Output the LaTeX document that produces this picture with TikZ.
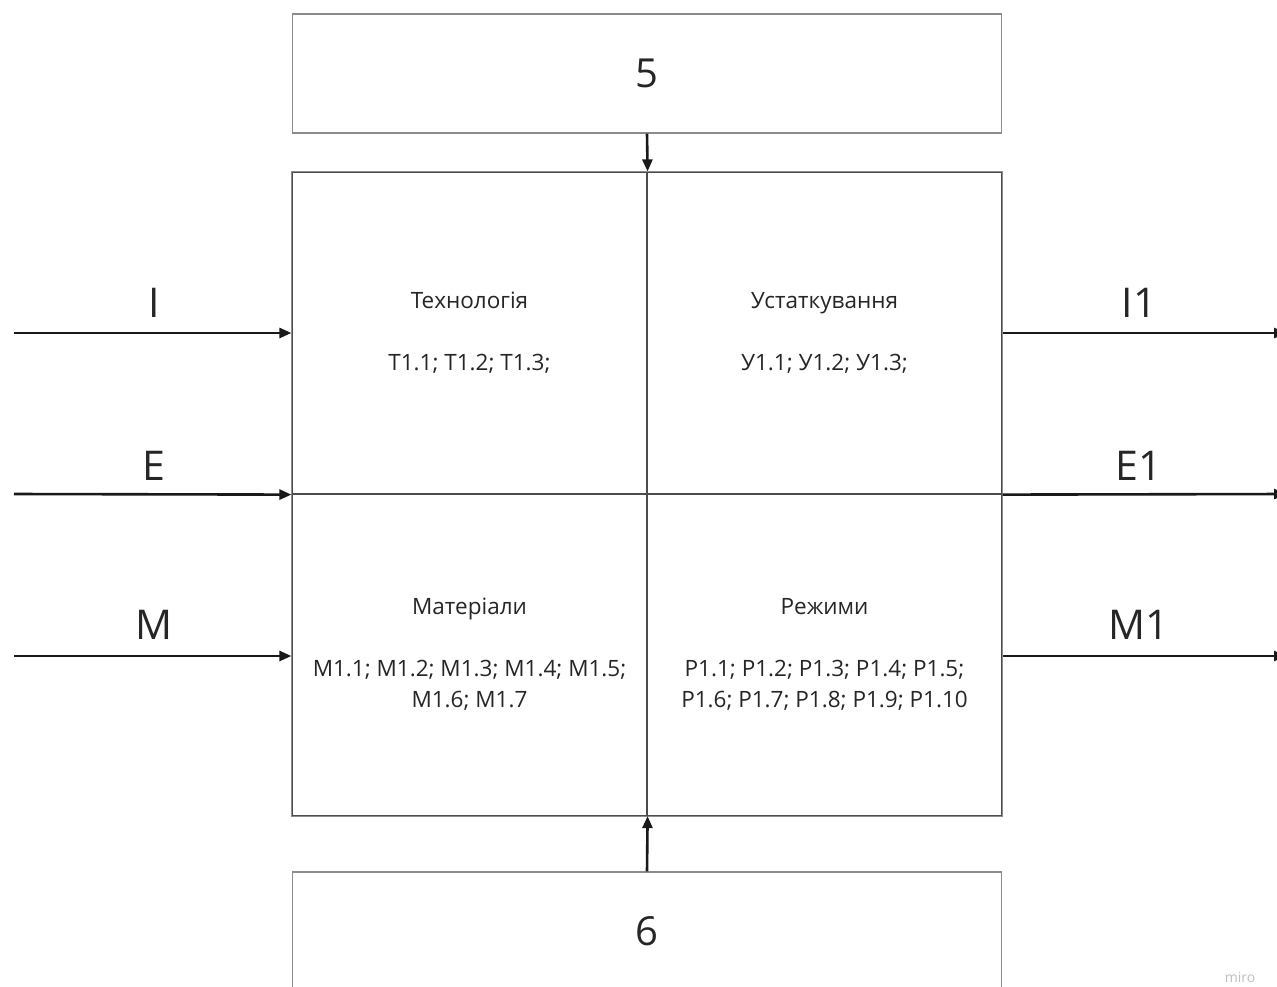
\documentclass[tikz,border=0pt]{standalone}
\usepackage{fontspec}
\setmainfont{Open Sans}
\usetikzlibrary{arrows.meta}
\tikzset{
  x=1pt, y=-1pt,
  box/.style={draw=black!45, line width=1.2pt, fill=white, minimum width=709pt, minimum height=119pt, inner sep=0pt, font=\fontsize{40}{48}\selectfont, text=black!85},
  quad/.style={draw=black!70, line width=1.2pt, minimum width=355pt, minimum height=322pt, inner sep=0pt, align=center, font=\fontsize{22.5}{31}\selectfont, text=black!85},
  flow/.style={line width=2.6pt, draw=black!90, -{Triangle[length=12pt,width=10pt]}},
  lbl/.style={font=\fontsize{41}{48}\selectfont, text=black!85, inner sep=0pt},
}
\begin{document}
\begin{tikzpicture}
\clip (0,0) rectangle (1277,986);
\fill[white] (0,0) rectangle (1277,986);
% boxes
\node[box] (b5) at (647,73.5) {5};
\node[box] (b6) at (647,931.5) {6};
\node[quad] (q1) at (469.5,333) {Технологія\\[31pt]T1.1; T1.2; T1.3;};
\node[quad] (q2) at (824.5,333) {Устаткування\\[31pt]У1.1; У1.2; У1.3;};
\node[quad] (q3) at (469.5,654.5) {Матеріали\\[31pt]M1.1; M1.2; M1.3; M1.4; M1.5;\\M1.6; M1.7};
\node[quad] (q4) at (824.5,654.5) {Режими\\[31pt]P1.1; P1.2; P1.3; P1.4; P1.5;\\P1.6; P1.7; P1.8; P1.9; P1.10};
\draw[draw=black!45, line width=1.2pt] (q1.north west) rectangle (q4.south east);
% vertical arrows
\draw[flow] (b5.south) -- (q1.north east);
\draw[flow] (b6.north) -- (q3.south east);
% input / output ends
\coordinate (iI) at (14,333);
\coordinate (iE) at (14,494);
\coordinate (iM) at (14,656);
\coordinate (oI) at (1286,333);
\coordinate (oE) at (1286,494);
\coordinate (oM) at (1286,656);
\draw[flow] (iI) -- (q1.west);
\draw[flow] (iE) -- (q1.south west);
\draw[flow] (iM) -- (q3.west |- iM);
\draw[flow] (q2.east) -- (oI);
\draw[flow] (q2.south east) -- (oE);
\draw[flow] (q4.east |- oM) -- (oM);
% labels
\node[lbl] (lI) at (154,303) {I};
\node[lbl] (lE) at (154,466) {E};
\node[lbl] (lM) at (154,625) {M};
\node[lbl] (lI1) at (1139,303) {I1};
\node[lbl] (lE1) at (1139,466) {E1};
\node[lbl] (lM1) at (1139,625) {M1};
\node[font=\fontsize{14}{16}\selectfont, text=black!25, inner sep=0pt] (miro) at (1240,977) {miro};
\end{tikzpicture}
\end{document}
